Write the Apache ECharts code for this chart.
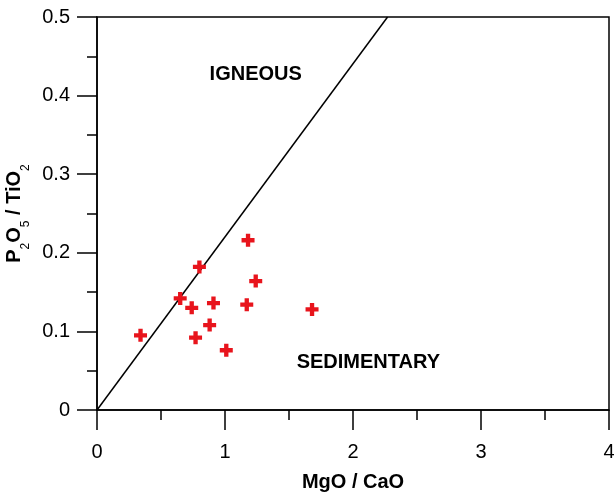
<!DOCTYPE html>
<html lang="en">
<head>
  <meta charset="UTF-8">
  <title>MgO/CaO vs P2O5/TiO2</title>
  <script src="https://cdn.jsdelivr.net/npm/echarts@6/dist/echarts.min.js"></script>
</head>
<body style="margin: 0;">
<div id="main" style="width: 614px; height: 496px;"></div>
<script type="text/javascript">
  const myChart = echarts.init(document.getElementById('main'));

  // sample points: MgO/CaO, P2O5/TiO2
  const mgoCao = [0.34, 0.65, 0.80, 0.74, 0.77, 0.88, 0.91, 1.01, 1.18, 1.17, 1.24, 1.68];
  const p2o5Tio2 = [0.095, 0.142, 0.182, 0.130, 0.092, 0.108, 0.136, 0.076, 0.216, 0.134, 0.164, 0.128];

  // igneous / sedimentary boundary
  const boundaryX = [0, 2.27];
  const boundaryY = [0, 0.5];

  // field names and where they sit
  const fieldNames = ['IGNEOUS', 'SEDIMENTARY'];
  const fieldX = [1.24, 2.12];
  const fieldY = [0.427, 0.061];

  const xTicks = [0, 1, 2, 3, 4];
  const yTicks = [0, 0.1, 0.2, 0.3, 0.4, 0.5];

  const font = '"Liberation Sans", Arial, sans-serif';
  const plus = 'path://M4,0H8V4H12V8H8V12H4V8H0V4H4Z';

  const option = {
    animation: false,
    grid: {
      left: 97,
      right: 5,
      top: 17,
      bottom: 86,
      outerBoundsMode: 'none',
      show: true,
      borderColor: '#000',
      borderWidth: 1.5
    },
    xAxis: {
      type: 'value',
      min: xTicks[0],
      max: xTicks[xTicks.length - 1],
      interval: 1,
      name: 'MgO / CaO',
      nameLocation: 'middle',
      nameGap: 62,
      nameTextStyle: {fontFamily: font, fontSize: 20, fontWeight: 'bold', color: '#000'},
      axisLine: {lineStyle: {color: '#000', width: 1.5}},
      axisTick: {length: 20, lineStyle: {color: '#000', width: 1.5}},
      minorTick: {show: true, splitNumber: 2, length: 10, lineStyle: {color: '#000', width: 1.5}},
      splitLine: {show: false},
      axisLabel: {margin: 32, fontFamily: font, fontSize: 20, color: '#000'}
    },
    yAxis: {
      type: 'value',
      min: yTicks[0],
      max: yTicks[yTicks.length - 1],
      interval: 0.1,
      name: '{b|P}{s|2}{b|O}{s|5}{b| / TiO}{s|2}',
      nameLocation: 'middle',
      nameRotate: 90,
      nameGap: 59,
      nameTextStyle: {
        rich: {
          b: {fontFamily: font, fontSize: 20, fontWeight: 'bold', color: '#000', lineHeight: 20, verticalAlign: 'top'},
          s: {fontFamily: font, fontSize: 12, color: '#000', lineHeight: 12, verticalAlign: 'top', padding: [15, 0, 0, 0]}
        }
      },
      axisLine: {lineStyle: {color: '#000', width: 1.5}},
      axisTick: {length: 20, lineStyle: {color: '#000', width: 1.5}},
      minorTick: {show: true, splitNumber: 2, length: 10, lineStyle: {color: '#000', width: 1.5}},
      splitLine: {show: false},
      axisLabel: {margin: 27, fontFamily: font, fontSize: 20, color: '#000'}
    },
    series: [
      {
        type: 'line',
        data: boundaryX.map((x, i) => [x, boundaryY[i]]),
        symbol: 'none',
        lineStyle: {color: '#000', width: 1.5},
        z: 2
      },
      {
        type: 'scatter',
        data: fieldNames.map((n, i) => [fieldX[i], fieldY[i], n]),
        symbolSize: 0,
        itemStyle: {opacity: 1},
        label: {
          show: true,
          position: 'inside',
          formatter: p => p.data[2],
          fontFamily: font,
          fontSize: 20,
          fontWeight: 'bold',
          color: '#000'
        },
        z: 3
      },
      {
        type: 'scatter',
        data: mgoCao.map((x, i) => [x, p2o5Tio2[i]]),
        symbol: plus,
        symbolSize: 13,
        itemStyle: {color: '#e8141c', opacity: 1},
        z: 4
      }
    ]
  };

  myChart.setOption(option);
</script>
</body>
</html>
